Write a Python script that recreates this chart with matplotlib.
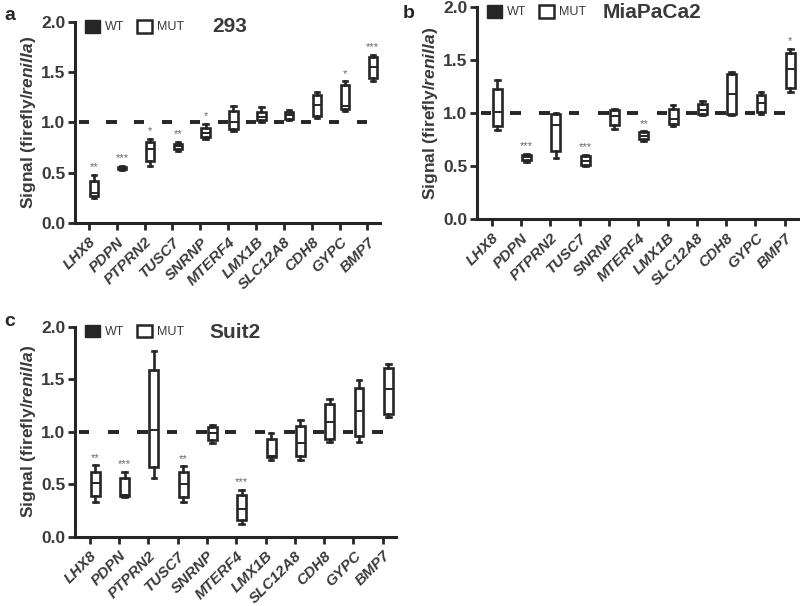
import numpy as np
import matplotlib
matplotlib.use('Agg')
import matplotlib.pyplot as plt
from matplotlib.patches import Patch

plt.rcParams['font.family'] = ['Liberation Sans', 'DejaVu Sans']
plt.rcParams['mathtext.fontset'] = 'custom'
plt.rcParams['mathtext.it'] = 'Liberation Sans:italic:bold'
plt.rcParams['mathtext.rm'] = 'Liberation Sans:bold'

genes = ['LHX8', 'PDPN', 'PTPRN2', 'TUSC7', 'SNRNP', 'MTERF4', 'LMX1B',
         'SLC12A8', 'CDH8', 'GYPC', 'BMP7']

# WT normalised to 1 everywhere
wt_val = [1.0, 1.0, 1.0, 1.0, 1.0, 1.0, 1.0, 1.0, 1.0, 1.0, 1.0]

# panel a - 293 (MUT: whisker low, q1, median, q3, whisker high)
a_lo  = [0.25, 0.53, 0.57, 0.72, 0.84, 0.92, 1.00, 1.02, 1.04, 1.11, 1.41]
a_q1  = [0.27, 0.54, 0.62, 0.74, 0.86, 0.94, 1.02, 1.03, 1.06, 1.13, 1.44]
a_med = [0.30, 0.55, 0.74, 0.77, 0.90, 1.00, 1.05, 1.07, 1.17, 1.16, 1.55]
a_q3  = [0.42, 0.56, 0.81, 0.79, 0.95, 1.11, 1.10, 1.10, 1.27, 1.37, 1.65]
a_hi  = [0.48, 0.57, 0.84, 0.81, 0.99, 1.16, 1.15, 1.12, 1.30, 1.41, 1.67]
a_sig = ['**', '***', '*', '**', '*', '', '', '', '', '*', '***']

# panel b - MiaPaCa2
b_lo  = [0.84, 0.54, 0.58, 0.50, 0.85, 0.74, 0.88, 0.98, 0.98, 0.99, 1.20]
b_q1  = [0.88, 0.56, 0.64, 0.51, 0.89, 0.755, 0.90, 0.99, 0.99, 1.01, 1.24]
b_med = [1.01, 0.59, 0.89, 0.55, 0.97, 0.79, 0.95, 1.03, 1.18, 1.095, 1.42]
b_q3  = [1.23, 0.61, 0.99, 0.60, 1.03, 0.82, 1.04, 1.085, 1.37, 1.17, 1.57]
b_hi  = [1.31, 0.62, 1.00, 0.61, 1.04, 0.83, 1.075, 1.12, 1.39, 1.20, 1.61]
b_sig = ['', '***', '', '***', '', '**', '', '', '', '', '*']

# panel c - Suit2
c_lo  = [0.33, 0.38, 0.56, 0.33, 0.89, 0.12, 0.73, 0.73, 0.90, 0.90, 1.14]
c_q1  = [0.39, 0.39, 0.66, 0.38, 0.92, 0.16, 0.76, 0.77, 0.93, 0.96, 1.17]
c_med = [0.51, 0.40, 1.02, 0.50, 0.99, 0.26, 0.77, 0.89, 1.09, 1.20, 1.41]
c_q3  = [0.62, 0.56, 1.59, 0.62, 1.045, 0.40, 0.93, 1.06, 1.27, 1.42, 1.61]
c_hi  = [0.68, 0.62, 1.77, 0.67, 1.07, 0.45, 0.99, 1.11, 1.31, 1.49, 1.65]
c_sig = ['**', '***', '', '**', '', '***', '', '', '', '', '']

ink = '#262626'
txt = '#3a3a3a'


def panel(rect, lo, q1, med, q3, hi, sig, title, title_x, letter, letter_xy):
    ax = fig.add_axes(rect)
    x = np.arange(len(genes))
    wt_stats = [dict(whislo=v, q1=v, med=v, q3=v, whishi=v) for v in wt_val]
    mut_stats = [dict(whislo=lo[i], q1=q1[i], med=med[i], q3=q3[i], whishi=hi[i])
                 for i in range(len(genes))]
    ax.bxp(wt_stats, positions=x - 0.19, widths=0.36, patch_artist=True,
           showfliers=False, showcaps=False,
           boxprops=dict(facecolor=ink, edgecolor=ink, linewidth=2.6),
           medianprops=dict(color=ink, linewidth=2.6),
           whiskerprops=dict(linewidth=0))
    ax.bxp(mut_stats, positions=x + 0.19, widths=0.3, patch_artist=True,
           showfliers=False, capwidths=0.16,
           boxprops=dict(facecolor='white', edgecolor=ink, linewidth=1.9),
           medianprops=dict(color=ink, linewidth=1.4),
           whiskerprops=dict(color=ink, linewidth=1.9),
           capprops=dict(color=ink, linewidth=1.9))
    for i, s in enumerate(sig):
        if s:
            ax.text(x[i] + 0.19, hi[i] + 0.025, s, ha='center', va='bottom',
                    fontsize=8, color='#666666')
    ax.set_xlim(-0.5, 10.45)
    ax.set_ylim(0, 2.0)
    ax.set_yticks([0, 0.5, 1.0, 1.5, 2.0])
    ax.set_yticklabels(['0.0', '0.5', '1.0', '1.5', '2.0'], fontsize=12.5,
                       fontweight='bold', color=txt)
    ax.set_xticks(x)
    ax.set_xticklabels(genes, rotation=45, ha='right', rotation_mode='anchor',
                       fontsize=11, fontweight='bold', style='italic', color=txt)
    for side in ['top', 'right']:
        ax.spines[side].set_visible(False)
    for side in ['left', 'bottom']:
        ax.spines[side].set_linewidth(2.2)
        ax.spines[side].set_color(ink)
    ax.tick_params(width=2, length=5, color=ink, pad=2)
    ax.tick_params(axis='x', pad=3.5)
    ax.set_ylabel(r'Signal (firefly/$\mathit{renilla}$)', fontsize=12.5,
                  fontweight='bold', color=txt, labelpad=2)
    ax.legend(handles=[Patch(facecolor=ink, edgecolor=ink, label='WT'),
                       Patch(facecolor='white', edgecolor=ink, linewidth=1.8, label='MUT')],
              loc='upper left', bbox_to_anchor=(-0.005, 1.065), ncol=2, frameon=False,
              handlelength=1.2, handleheight=1.2, handletextpad=0.4,
              columnspacing=1.0, prop=dict(size=9), labelcolor=txt)
    ax.text(title_x, 1.95, title, ha='left', va='center',
            fontsize=15, fontweight='bold', color=txt)
    fig.text(letter_xy[0], letter_xy[1], letter, fontsize=14, fontweight='bold',
             color=ink, ha='left', va='center')
    return ax


fig = plt.figure(figsize=(8, 6.06), dpi=100)

W, H = 800.0, 606.0
panel([75 / W, 1 - 223.3 / H, 305 / W, 201.6 / H],
      a_lo, a_q1, a_med, a_q3, a_hi, a_sig, '293', 4.42, 'a', (4 / W, 1 - 15 / H))
panel([477 / W, 1 - 219.3 / H, 321 / W, 212 / H],
      b_lo, b_q1, b_med, b_q3, b_hi, b_sig, 'MiaPaCa2', 3.78, 'b', (403 / W, 1 - 14 / H))
panel([75 / W, 1 - 536.7 / H, 321 / W, 209.7 / H],
      c_lo, c_q1, c_med, c_q3, c_hi, c_sig, 'Suit2', 4.1, 'c', (4 / W, 1 - 322 / H))

fig.savefig('out.png', dpi=100)
